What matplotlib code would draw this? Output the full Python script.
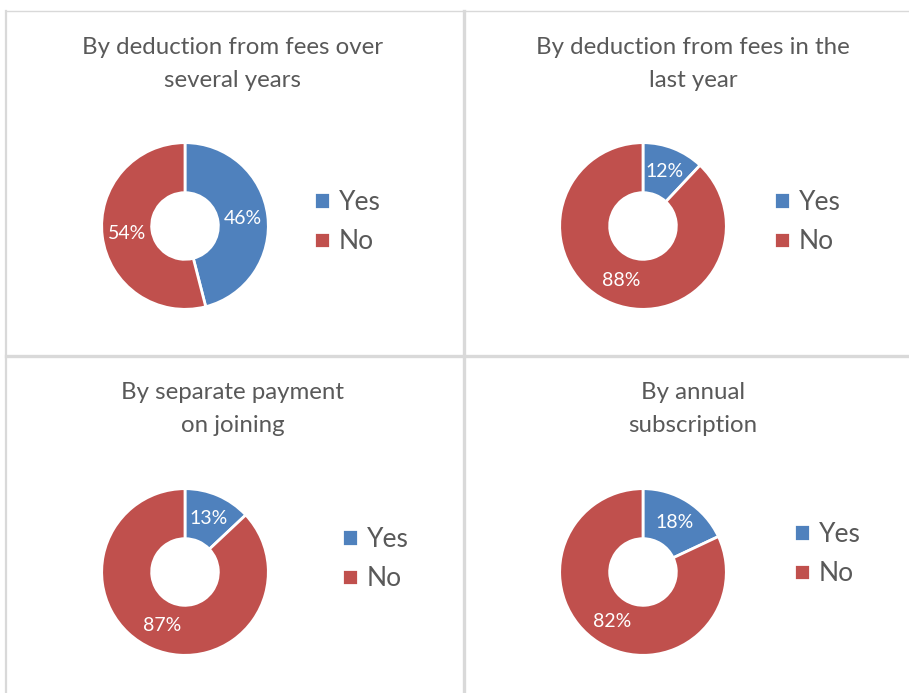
import matplotlib
matplotlib.use("Agg")
import matplotlib.pyplot as plt
from matplotlib.lines import Line2D

categories = ["Yes", "No"]
titles = [
    "By deduction from fees over\nseveral years",
    "By deduction from fees in the\nlast year",
    "By separate payment\non joining",
    "By annual\nsubscription",
]
yes_pct = [46, 12, 13, 18]
no_pct = [54, 88, 87, 82]

colors = ["#4F81BD", "#C0504D"]
text_col = "#595959"
grid_col = "#D9D9D9"

W, H = 909, 693
plt.rcParams["font.family"] = ["Lato", "DejaVu Sans"]

fig = plt.figure(figsize=(W / 100, H / 100), dpi=100)


def fx(px):
    return px / W


def fy(py):
    return 1 - py / H


# panel layout in pixels: donut centre, title centre, legend anchor
centres = [(185, 226), (643, 226), (185, 572), (643, 572)]
title_pos = [(233, 64), (693, 64), (233, 409), (693, 409)]
legend_pos = [(314, 222), (774, 222), (342, 559), (794, 554)]
R = 85

for i in range(4):
    cx, cy = centres[i]
    ax = fig.add_axes([fx(cx - R), fy(cy + R), 2 * R / W, 2 * R / H])
    wedges, _, autotexts = ax.pie(
        [yes_pct[i], no_pct[i]],
        colors=colors,
        startangle=90,
        counterclock=False,
        radius=1,
        autopct=lambda p: f"{p:.0f}%",
        pctdistance=0.7,
        wedgeprops=dict(width=0.6, edgecolor="white", linewidth=2),
        textprops=dict(color="white", fontsize=14),
    )
    ax.set_xlim(-1.02, 1.02)
    ax.set_ylim(-1.02, 1.02)
    ax.set_aspect("equal")
    ax.axis("off")

    tx, ty = title_pos[i]
    fig.text(fx(tx), fy(ty), titles[i], ha="center", va="center",
             fontsize=17.3, color=text_col, linespacing=1.66)

    lx, ly = legend_pos[i]
    ax.legend(wedges, categories, loc="center left",
              bbox_to_anchor=(fx(lx), fy(ly)), bbox_transform=fig.transFigure,
              frameon=False, fontsize=19, labelcolor=text_col,
              handlelength=0.6, handleheight=0.6, handletextpad=0.35,
              labelspacing=0.55, borderpad=0, borderaxespad=0)

# panel borders
fig.add_artist(Line2D([fx(6), fx(909)], [fy(11), fy(11)], color=grid_col, lw=1))
fig.add_artist(Line2D([fx(5.5), fx(5.5)], [fy(11), fy(693)], color=grid_col, lw=1.6))
fig.add_artist(Line2D([fx(6), fx(909)], [fy(356), fy(356)], color=grid_col, lw=2.4))
fig.add_artist(Line2D([fx(464), fx(464)], [fy(11), fy(693)], color=grid_col, lw=2.4))

fig.savefig("out.png", dpi=100, facecolor="white")
